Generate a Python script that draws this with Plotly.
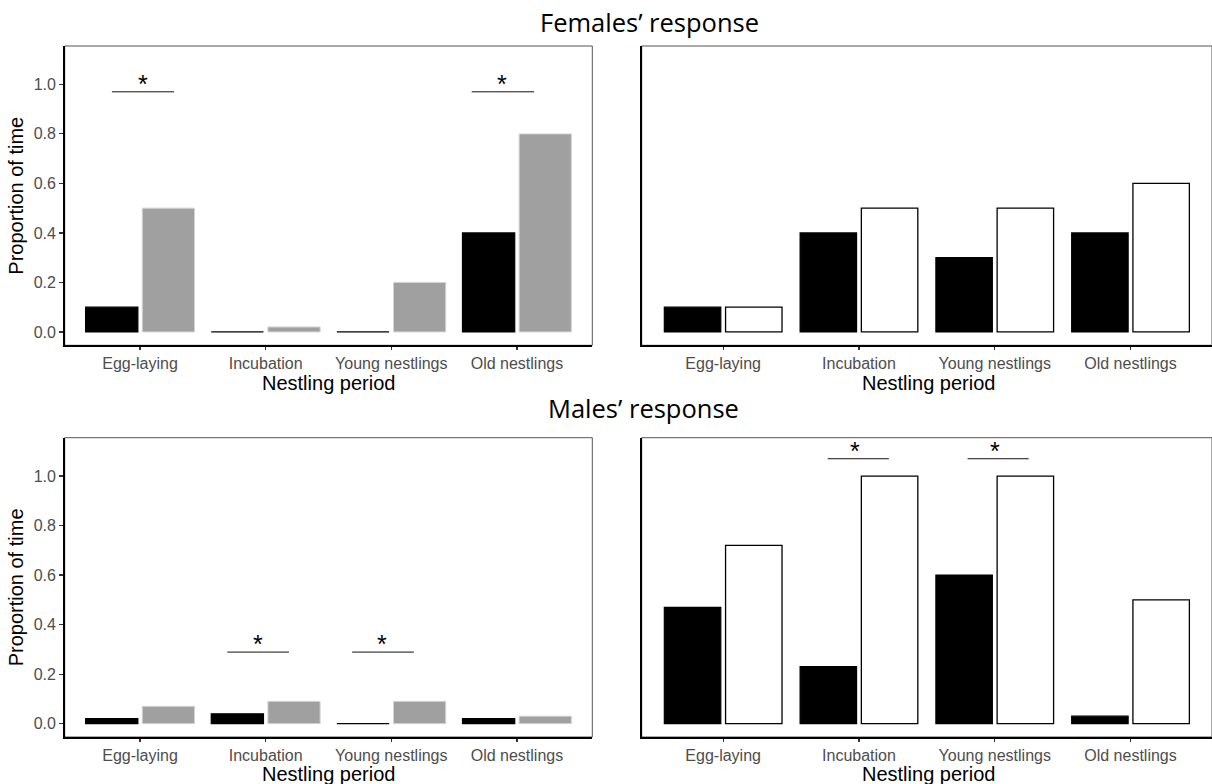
import plotly.graph_objects as go

# ---------------- data ----------------
periods = ["Egg-laying", "Incubation", "Young nestlings", "Old nestlings"]
positions = [1, 2, 3, 4]
y_tick_values = [0.0, 0.2, 0.4, 0.6, 0.8, 1.0]

fem_left_black = [0.10, 0.00, 0.00, 0.40]
fem_left_grey = [0.50, 0.02, 0.20, 0.80]
fem_right_black = [0.10, 0.40, 0.30, 0.40]
fem_right_white = [0.10, 0.50, 0.50, 0.60]

male_left_black = [0.02, 0.04, 0.00, 0.02]
male_left_grey = [0.07, 0.09, 0.09, 0.03]
male_right_black = [0.47, 0.23, 0.60, 0.03]
male_right_white = [0.72, 1.00, 1.00, 0.50]

# significance brackets (x start, x end, y of the line, x of the star), in data units
sig_fem_left = [(0.776, 1.27, 0.97, 1.023), (3.64, 4.136, 0.97, 3.88)]
sig_fem_right = []
sig_male_left = [(1.694, 2.186, 0.289, 1.937), (2.688, 3.18, 0.289, 2.927)]
sig_male_right = [(1.77, 2.22, 1.07, 1.97), (2.80, 3.25, 1.07, 3.0)]

titles = ["Females\u2019 response", "Males\u2019 response"]
x_title = "Nestling period"
y_title = "Proportion of time"

# ---------------- figure ----------------
W, H = 1212, 784
fig = go.Figure()

TICK_FONT = dict(family="Liberation Sans, Arial", size=16, color="#4d4d4d")
TITLE_FONT = dict(family="Liberation Sans, Arial", size=20, color="#000000")

panels = [
    ("x", "y", fem_left_black, fem_left_grey, "grey", sig_fem_left),
    ("x2", "y2", fem_right_black, fem_right_white, "white", sig_fem_right),
    ("x3", "y3", male_left_black, male_left_grey, "grey", sig_male_left),
    ("x4", "y4", male_right_black, male_right_white, "white", sig_male_right),
]

for xa, ya, first, second, kind, sig in panels:
    fig.add_trace(go.Bar(
        x=positions, y=first, xaxis=xa, yaxis=ya, offsetgroup="a",
        marker=dict(color="#000000", line=dict(color="#000000", width=1.2)),
        showlegend=False, hoverinfo="skip"))
    if kind == "grey":
        mk = dict(color="#a0a0a0", line=dict(color="#d4d4d4", width=1))
    else:
        mk = dict(color="#ffffff", line=dict(color="#000000", width=1.3))
    fig.add_trace(go.Bar(
        x=positions, y=second, xaxis=xa, yaxis=ya, offsetgroup="b",
        marker=mk, showlegend=False, hoverinfo="skip"))
    for (x0, x1, yl, xs) in sig:
        fig.add_shape(type="line", xref=xa, yref=ya, x0=x0, x1=x1, y0=yl, y1=yl,
                      line=dict(color="#111111", width=1))
        fig.add_annotation(xref=xa, yref=ya, x=xs, y=yl, text="*", showarrow=False,
                           yanchor="bottom", yshift=-8,
                           font=dict(family="Liberation Sans, Arial", size=25, color="#000000"))

xL = [64.7 / W, 592.3 / W]
xR = [641.7 / W, 1.0]
yT = [(H - 345.3) / H, (H - 46) / H]
yB = [(H - 737) / H, (H - 437.7) / H]

axis_common_x = dict(
    range=[0.4, 4.6], tickvals=positions, ticktext=periods, showline=True,
    linecolor="#000000", linewidth=1.6, ticks="outside", ticklen=3, tickwidth=1.2,
    tickcolor="#333333", tickfont=TICK_FONT, showgrid=False, zeroline=False,
    automargin=False, fixedrange=True)

def yaxis_cfg(domain, show, anchor):
    d = dict(domain=domain, anchor=anchor, range=[-0.054, 1.155], showline=True,
             linecolor="#000000", linewidth=1.6, showgrid=False, zeroline=False,
             automargin=False, fixedrange=True)
    if show:
        d.update(tickvals=y_tick_values, ticktext=[f"{v:.1f}" for v in y_tick_values],
                 ticks="outside", ticklen=4, tickwidth=1.2, tickcolor="#333333",
                 tickfont=TICK_FONT)
    else:
        d.update(showticklabels=False, ticks="")
    return d

fig.update_layout(
    width=W, height=H, margin=dict(l=0, r=0, t=0, b=0),
    paper_bgcolor="#ffffff", plot_bgcolor="#ffffff",
    barmode="group", bargap=0.098, bargroupgap=0.078,
    xaxis=dict(domain=xL, anchor="y", **axis_common_x),
    xaxis2=dict(domain=xR, anchor="y2", **axis_common_x),
    xaxis3=dict(domain=xL, anchor="y3", **axis_common_x),
    xaxis4=dict(domain=xR, anchor="y4", **axis_common_x),
    yaxis=yaxis_cfg(yT, True, "x"),
    yaxis2=yaxis_cfg(yT, False, "x2"),
    yaxis3=yaxis_cfg(yB, True, "x3"),
    yaxis4=yaxis_cfg(yB, False, "x4"),
)

# thin panel borders
for xa, ya in [("x", "y"), ("x2", "y2"), ("x3", "y3"), ("x4", "y4")]:
    fig.add_shape(type="rect", xref=f"{xa} domain", yref=f"{ya} domain",
                  x0=0, x1=1, y0=0, y1=1, layer="below",
                  line=dict(color="#555555", width=1), fillcolor="rgba(0,0,0,0)")

# axis titles
for xc in [(xL[0] + xL[1]) / 2, (641.7 + 1216) / 2 / W]:
    for ypx in [383, 774]:
        fig.add_annotation(xref="paper", yref="paper", x=xc, y=(H - ypx) / H,
                           text=x_title, showarrow=False, xanchor="center",
                           yanchor="middle", font=TITLE_FONT)
for yd in [yT, yB]:
    fig.add_annotation(xref="paper", yref="paper", x=16 / W, y=(yd[0] + yd[1]) / 2,
                       text=y_title, textangle=-90, showarrow=False,
                       xanchor="center", yanchor="middle", font=TITLE_FONT)

# row titles
fig.add_annotation(xref="paper", yref="paper", x=649.5 / W, y=(H - 22) / H,
                   text=titles[0], showarrow=False, xanchor="center", yanchor="middle",
                   font=dict(family="Open Sans", size=25.5, color="#000000"))
fig.add_annotation(xref="paper", yref="paper", x=643 / W, y=(H - 408) / H,
                   text=titles[1], showarrow=False, xanchor="center", yanchor="middle",
                   font=dict(family="Open Sans", size=25.5, color="#000000"))

fig.write_html(
    "out.html",
    config={"displayModeBar": False, "staticPlot": True},
    post_script="document.body.style.margin='0px';document.body.style.overflow='hidden';",
)
